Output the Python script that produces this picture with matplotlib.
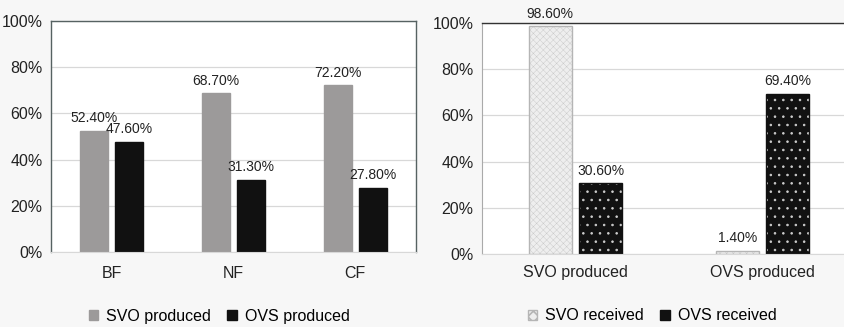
import matplotlib.pyplot as plt
import matplotlib as mpl
import numpy as np
from matplotlib.patches import Patch

plt.rcParams['font.family'] = ['Liberation Sans', 'DejaVu Sans']
mpl.rcParams['hatch.linewidth'] = 1.2

# produced shares by facility type
groups_left = ["BF", "NF", "CF"]
svo_produced = [52.4, 68.7, 72.2]
ovs_produced = [47.6, 31.3, 27.8]

# received shares by produced type
groups_right = ["SVO produced", "OVS produced"]
svo_received = [98.6, 1.4]
ovs_received = [30.6, 69.4]

yticks = [0, 20, 40, 60, 80, 100]
ytick_labels = ["0%", "20%", "40%", "60%", "80%", "100%"]

W, H = 844, 327
fig = plt.figure(figsize=(W / 100, H / 100), dpi=100, facecolor="#f7f7f7")

ax1 = fig.add_axes([51 / W, 1 - 252 / H, 365 / W, 231 / H])
ax2 = fig.add_axes([482 / W, 1 - 254 / H, 374 / W, 231 / H])


def style_axes(ax):
    ax.set_facecolor("white")
    ax.set_ylim(0, 100)
    ax.set_yticks(yticks)
    ax.set_yticklabels(ytick_labels, fontsize=11.5, color="#222")
    ax.tick_params(axis="both", length=0, pad=6)
    ax.grid(axis="y", color="#d8d8d8", linewidth=0.9)
    ax.set_axisbelow(True)


style_axes(ax1)
x = np.arange(len(groups_left))
w = 0.23
off = 0.145
b1 = ax1.bar(x - off, svo_produced, w, color="#9c9a9a", edgecolor="#9c9a9a")
b2 = ax1.bar(x + off, ovs_produced, w, color="#111111", edgecolor="#111111")
for bars, vals in ((b1, svo_produced), (b2, ovs_produced)):
    for r, v in zip(bars, vals):
        ax1.annotate("%.2f%%" % v, (r.get_x() + r.get_width() / 2, v),
                     xytext=(0, 4), textcoords="offset points",
                     ha="center", va="bottom", fontsize=10, color="#222")
ax1.set_xlim(-0.5, 2.5)
ax1.set_xticks(x)
ax1.set_xticklabels(groups_left, fontsize=11.5, color="#222")
ax1.tick_params(axis="x", pad=10)
for s in ("left", "top", "right"):
    ax1.spines[s].set_color("#566262")
    ax1.spines[s].set_linewidth(1.0)
ax1.spines["bottom"].set_color("#d8d8d8")

style_axes(ax2)
x2 = np.arange(len(groups_right))
off2 = 0.135
r1 = ax2.bar(x2 - off2, svo_received, w, color="#eeeeee", edgecolor="#b5b5b5",
             hatch="xxxxx", linewidth=1.0)
for p in r1:
    p.set_hatch_linewidth(0.3)
    p._hatch_color = mpl.colors.to_rgba("#c8c8c8")
r2 = ax2.bar(x2 + off2, ovs_received, w, color="#111111", edgecolor="#111111",
             hatch="..", linewidth=1.0)
for p in r2:
    p.set_hatch_linewidth(0.6)
    p._hatch_color = mpl.colors.to_rgba("#cfcfcf")
for bars, vals in ((r1, svo_received), (r2, ovs_received)):
    for r, v in zip(bars, vals):
        ax2.annotate("%.2f%%" % v, (r.get_x() + r.get_width() / 2, v),
                     xytext=(0, 4), textcoords="offset points",
                     ha="center", va="bottom", fontsize=10, color="#222")
ax2.set_xlim(-0.5, 1.5)
ax2.set_xticks(x2)
ax2.set_xticklabels(groups_right, fontsize=11.5, color="#222")
ax2.tick_params(axis="x", pad=8)
ax2.spines["top"].set_color("#333")
ax2.spines["top"].set_linewidth(1.0)
ax2.spines["left"].set_color("#aaaaaa")
ax2.spines["right"].set_visible(False)
ax2.spines["bottom"].set_color("#d8d8d8")

leg1 = [Patch(facecolor="#9c9a9a", edgecolor="#9c9a9a", label="SVO produced"),
        Patch(facecolor="#111111", edgecolor="#111111", label="OVS produced")]
fig.legend(handles=leg1, loc="center", bbox_to_anchor=(219 / W, 1 - 316 / H),
           ncol=2, frameon=False, fontsize=11.5, handlelength=0.6, handleheight=0.6,
           handletextpad=0.5, columnspacing=1.0)

leg2 = [Patch(facecolor="#eeeeee", edgecolor="#b5b5b5", hatch="xxx", label="SVO received"),
        Patch(facecolor="#111111", edgecolor="#111111", label="OVS received")]
fig.legend(handles=leg2, loc="center", bbox_to_anchor=(652 / W, 1 - 316 / H),
           ncol=2, frameon=False, fontsize=11.5, handlelength=0.6, handleheight=0.6,
           handletextpad=0.5, columnspacing=1.0)

fig.savefig("out.png", dpi=100, facecolor=fig.get_facecolor())
